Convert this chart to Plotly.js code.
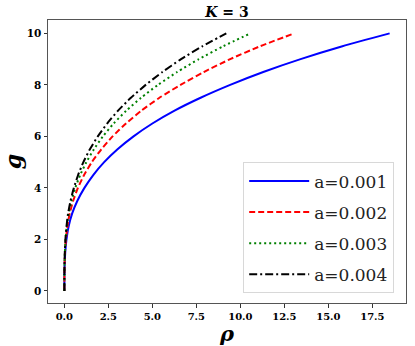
<!DOCTYPE html>
<html>
<head>
<meta charset="utf-8">
<script src="https://cdn.plot.ly/plotly-3.0.1.min.js"></script>
<style>
  html, body { margin: 0; padding: 0; background: #fff; }
  #chart { width: 415px; height: 346px; }
</style>
</head>
<body>
<div id="chart"></div>
<script>
// g values shared by all curves, rho for each a
const gVals = [0, 0.5, 1, 1.5, 2, 2.5, 3, 3.5, 4, 4.5, 5, 5.5, 6, 6.5, 7, 7.5, 8, 8.5, 9, 9.5, 10];
const rhoA1 = [0, 0.002, 0.015, 0.05, 0.12, 0.24, 0.44, 0.74, 1.14, 1.64, 2.26, 3.02, 3.93, 5.0, 6.26, 7.74, 9.42, 11.3, 13.42, 15.8, 18.48];
const rhoA2 = [0, 0.001, 0.01, 0.035, 0.085, 0.17, 0.3, 0.5, 0.77, 1.12, 1.56, 2.1, 2.74, 3.5, 4.38, 5.4, 6.6, 7.92, 9.42, 11.12, 13.05];
const rhoA3 = [0, 0.001, 0.008, 0.03, 0.07, 0.14, 0.25, 0.41, 0.62, 0.9, 1.25, 1.68, 2.19, 2.8, 3.52, 4.36, 5.32, 6.41, 7.64, 9.02, 10.57];
const rhoA4 = [0, 0.001, 0.007, 0.025, 0.06, 0.12, 0.21, 0.35, 0.54, 0.78, 1.08, 1.45, 1.9, 2.43, 3.05, 3.78, 4.62, 5.57, 6.63, 7.84, 9.2];
const seriesNames = ['a=0.001', 'a=0.002', 'a=0.003', 'a=0.004'];
const xTicks = [0, 2.5, 5, 7.5, 10, 12.5, 15, 17.5];
const yTicks = [0, 2, 4, 6, 8, 10];

const rhoSets = [rhoA1, rhoA2, rhoA3, rhoA4];
const colors = ['#0000ff', '#ff0000', '#008000', '#000000'];
const dashes = ['solid', '6px,3px', '2px,3px', '8px,3px,2px,3px'];

const data = rhoSets.map(function(r, i) {
    return {
        x: r,
        y: gVals,
        type: 'scatter',
        mode: 'lines',
        name: seriesNames[i],
        legendgroup: 'g' + i,
        line: { color: colors[i], width: 2, dash: dashes[i], shape: 'spline', smoothing: 0.6 }
    };
});

const tickFont = { family: 'DejaVu Serif', size: 10, color: '#000', weight: 'bold' };

const layout = {
    width: 415,
    height: 346,
    margin: { l: 48, r: 9, t: 20, b: 43 },
    paper_bgcolor: '#fff',
    plot_bgcolor: '#fff',
    showlegend: true,
    title: {
        text: '<b><i>K</i> = 3</b>',
        font: { family: 'DejaVu Serif', size: 14, color: '#000' },
        x: 0.5, xref: 'paper', xanchor: 'center',
        y: 0.965, yref: 'container', yanchor: 'middle'
    },
    xaxis: {
        range: [-0.93, 19.41],
        tickvals: xTicks,
        ticktext: xTicks.map(function(v) { return v.toFixed(1); }),
        ticks: 'outside', ticklen: 3.5, tickwidth: 1, tickcolor: '#333',
        tickfont: tickFont,
        showgrid: false, zeroline: false,
        showline: true, mirror: true, linecolor: '#555', linewidth: 1,
        title: { text: 'ρ', font: { family: 'DejaVu Serif', size: 21, color: '#000', weight: 'bold', style: 'italic' }, standoff: 4 }
    },
    yaxis: {
        range: [-0.47, 10.52],
        tickvals: yTicks,
        ticks: 'outside', ticklen: 3.5, tickwidth: 1, tickcolor: '#333',
        tickfont: { family: 'DejaVu Serif', size: 10.5, color: '#000', weight: 'bold' },
        showgrid: false, zeroline: false,
        showline: true, mirror: true, linecolor: '#555', linewidth: 1,
        title: { text: 'g', font: { family: 'DejaVu Serif', size: 22, color: '#000', weight: 'bold', style: 'italic' }, standoff: 8 }
    },
    legend: {
        x: 0.967, y: 0.034, xanchor: 'right', yanchor: 'bottom',
        bgcolor: 'rgba(255,255,255,0.8)',
        bordercolor: '#d8d8d8', borderwidth: 1,
        font: { family: 'DejaVu Serif', size: 17, color: '#222' },
        itemwidth: 60,
        tracegroupgap: 6
    }
};

Plotly.newPlot('chart', data, layout, { displayModeBar: false, staticPlot: true });
</script>
</body>
</html>
